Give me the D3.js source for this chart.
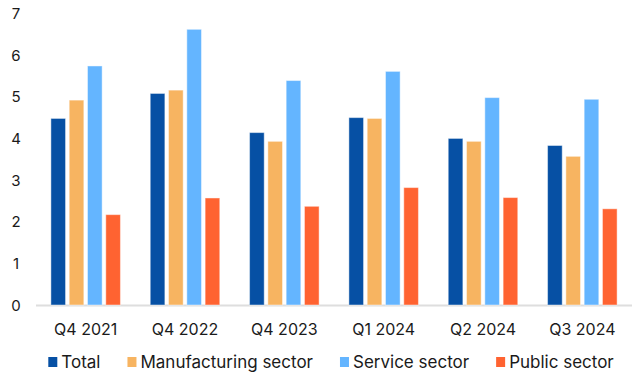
<!DOCTYPE html>
<html>
<head>
<meta charset="utf-8">
<script src="https://cdn.jsdelivr.net/npm/d3@7"></script>
<style>
  body { margin: 0; background: #fff; }
  text { font-family: Inter, "Noto Sans", sans-serif; fill: #1a1a1a; }
</style>
</head>
<body>
<div id="root"></div>
<script>
const width = 632;
const height = 376;

const categories = ["Q4 2021", "Q4 2022", "Q4 2023", "Q1 2024", "Q2 2024", "Q3 2024"];
const seriesNames = ["Total", "Manufacturing sector", "Service sector", "Public sector"];
const total = [4.48, 5.08, 4.14, 4.50, 4.00, 3.83];
const manufacturing = [4.92, 5.16, 3.93, 4.48, 3.93, 3.57];
const service = [5.74, 6.62, 5.39, 5.61, 4.98, 4.94];
const publicSector = [2.17, 2.57, 2.37, 2.82, 2.58, 2.31];
const yTicks = [0, 1, 2, 3, 4, 5, 6, 7];
const colors = ["#0650a4", "#f7b461", "#64b5ff", "#ff6331"];

const values = [total, manufacturing, service, publicSector];
const rows = categories.map((c, i) => ({
    cat: c,
    vals: seriesNames.map((s, j) => ({ key: s, value: values[j][i] }))
}));

const svg = d3.select("#root")
    .append("svg")
    .attr("width", width)
    .attr("height", height);

const x0 = d3.scaleBand()
    .domain(categories)
    .range([36, 632])
    .paddingInner(0.3)
    .paddingOuter(0.15);

const x1 = d3.scaleBand()
    .domain(seriesNames)
    .range([0, x0.bandwidth()])
    .paddingInner(0.2);

const color = d3.scaleOrdinal()
    .domain(seriesNames)
    .range(colors);

const y = d3.scaleLinear()
    .domain([0, 7])
    .range([305, 13.5]);

// y labels
svg.selectAll(".ylab")
    .data(yTicks)
    .join("text")
    .attr("x", 16)
    .attr("y", d => y(d))
    .attr("text-anchor", "middle")
    .attr("dominant-baseline", "central")
    .style("font-size", "15px")
    .text(d => d);

// baseline
svg.append("line")
    .attr("x1", 36)
    .attr("x2", 632)
    .attr("y1", y(0) + 0.5)
    .attr("y2", y(0) + 0.5)
    .attr("stroke", "#dedede")
    .attr("stroke-width", 2);

const groups = svg.selectAll(".group")
    .data(rows)
    .join("g")
    .attr("transform", d => `translate(${x0(d.cat)},0)`);

groups.selectAll("rect")
    .data(d => d.vals)
    .join("rect")
    .attr("x", d => x1(d.key))
    .attr("y", d => y(d.value))
    .attr("width", x1.bandwidth())
    .attr("height", d => y(0) - y(d.value))
    .attr("fill", d => color(d.key))
    .attr("stroke", "rgba(255,255,255,0.45)")
    .attr("stroke-width", 1);

// x labels
svg.selectAll(".xlab")
    .data(categories)
    .join("text")
    .attr("x", d => x0(d) + x0.bandwidth() / 2)
    .attr("y", 329)
    .attr("text-anchor", "middle")
    .attr("dominant-baseline", "central")
    .style("font-size", "16px")
    .text(d => d);

// legend
const legend = svg.append("g");
let lx = 48.3;
seriesNames.forEach(s => {
    const item = legend.append("g").attr("transform", `translate(${lx},0)`);
    item.append("rect")
        .attr("x", 0)
        .attr("y", 357)
        .attr("width", 9)
        .attr("height", 10)
        .attr("fill", color(s));
    const t = item.append("text")
        .attr("x", 13)
        .attr("y", 362)
        .attr("dominant-baseline", "central")
        .style("font-size", "17px")
        .text(s);
    lx += 13 + t.node().getComputedTextLength() + 27;
});
</script>
</body>
</html>
